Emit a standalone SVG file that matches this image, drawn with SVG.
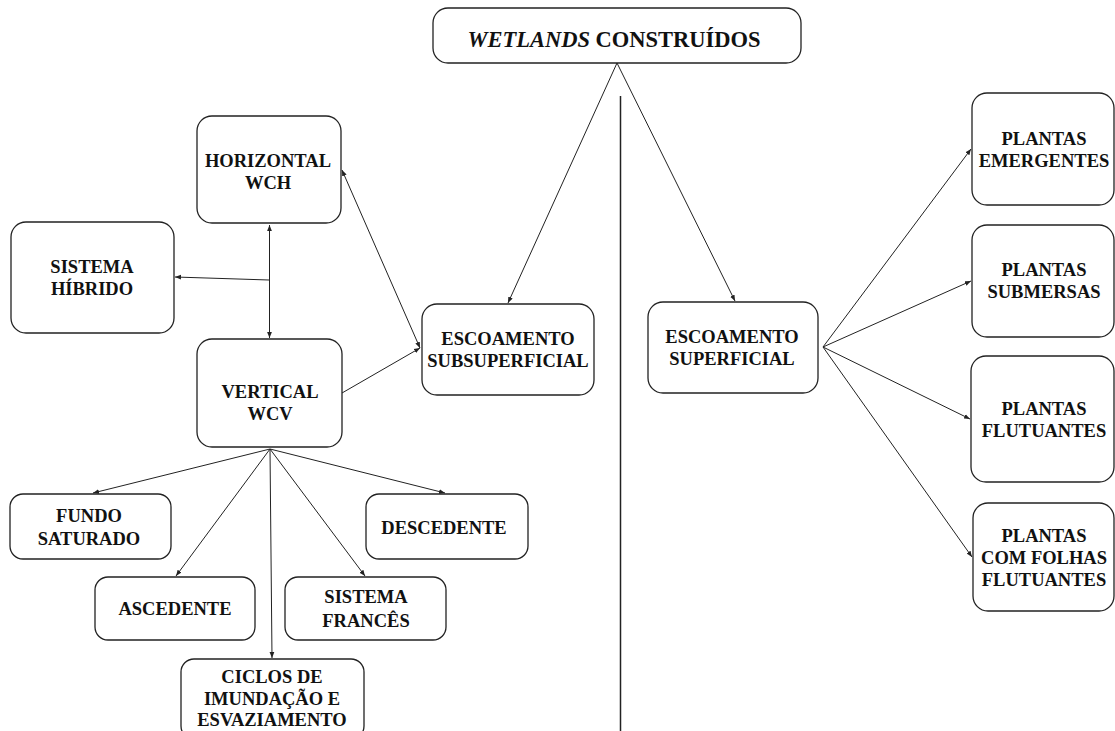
<svg xmlns="http://www.w3.org/2000/svg" width="1115" height="731" viewBox="0 0 1115 731">
<style>
.box{fill:#fff;stroke:#222;stroke-width:1.3}
.t{font-family:"Liberation Serif","Times New Roman",serif;font-weight:bold;font-size:18.5px;fill:#111;text-anchor:middle}
.ln{stroke:#222;stroke-width:1;fill:none}
</style>
<defs>
<marker id="ah" viewBox="0 0 10 10" refX="10" refY="5" markerWidth="6" markerHeight="6" orient="auto-start-reverse" markerUnits="userSpaceOnUse">
<path d="M0,1 L10,5 L0,9 z" fill="#222"/>
</marker>
</defs>
<rect width="1115" height="731" fill="#fff"/>
<g id="connectors">
<line class="ln" x1="620.5" y1="96" x2="620.5" y2="731" style="stroke-width:1.5"/>
<line class="ln" x1="617" y1="63" x2="508" y2="303" marker-end="url(#ah)"/>
<line class="ln" x1="617" y1="63" x2="735" y2="301" marker-end="url(#ah)"/>
<line class="ln" x1="420" y1="348" x2="342" y2="170" marker-end="url(#ah)" marker-start="url(#ah)"/>
<line class="ln" x1="342" y1="393" x2="420" y2="348" marker-end="url(#ah)"/>
<line class="ln" x1="269.5" y1="225" x2="269.5" y2="338" marker-end="url(#ah)" marker-start="url(#ah)"/>
<line class="ln" x1="269" y1="280" x2="175" y2="277" marker-end="url(#ah)"/>
<line class="ln" x1="270" y1="449" x2="93" y2="493" marker-end="url(#ah)"/>
<line class="ln" x1="270" y1="449" x2="445" y2="493" marker-end="url(#ah)"/>
<line class="ln" x1="270" y1="449" x2="176" y2="576" marker-end="url(#ah)"/>
<line class="ln" x1="270" y1="449" x2="365" y2="576" marker-end="url(#ah)"/>
<line class="ln" x1="270" y1="449" x2="272" y2="658" marker-end="url(#ah)"/>
<line class="ln" x1="823" y1="347" x2="971" y2="149" marker-end="url(#ah)"/>
<line class="ln" x1="823" y1="347" x2="971" y2="281" marker-end="url(#ah)"/>
<line class="ln" x1="823" y1="347" x2="970" y2="419" marker-end="url(#ah)"/>
<line class="ln" x1="823" y1="347" x2="972" y2="557" marker-end="url(#ah)"/>
</g>
<g id="n-wetlands">
<rect class="box" x="433" y="8" width="368" height="55" rx="15"/>
<text class="t" x="614" y="47" style="font-size:22.5px"><tspan font-style="italic">WETLANDS</tspan> CONSTRUÍDOS</text>
</g>
<g id="n-horizontal">
<rect class="box" x="197" y="116" width="144" height="107" rx="15"/>
<text class="t" x="268" y="167">HORIZONTAL</text>
<text class="t" x="268" y="189">WCH</text>
</g>
<g id="n-hibrido">
<rect class="box" x="11" y="222" width="163" height="111" rx="15"/>
<text class="t" x="92" y="273">SISTEMA</text>
<text class="t" x="92" y="295">HÍBRIDO</text>
</g>
<g id="n-vertical">
<rect class="box" x="197" y="339" width="145" height="108" rx="15"/>
<text class="t" x="270" y="398">VERTICAL</text>
<text class="t" x="270" y="420">WCV</text>
</g>
<g id="n-subsuperficial">
<rect class="box" x="422" y="304" width="172" height="91" rx="15"/>
<text class="t" x="508" y="345">ESCOAMENTO</text>
<text class="t" x="508" y="367">SUBSUPERFICIAL</text>
</g>
<g id="n-superficial">
<rect class="box" x="648" y="302" width="170" height="91" rx="15"/>
<text class="t" x="732" y="343">ESCOAMENTO</text>
<text class="t" x="732" y="365">SUPERFICIAL</text>
</g>
<g id="n-fundo">
<rect class="box" x="10" y="494" width="161" height="65" rx="13"/>
<text class="t" x="89" y="522">FUNDO</text>
<text class="t" x="89" y="545">SATURADO</text>
</g>
<g id="n-descendente">
<rect class="box" x="366" y="494" width="162" height="65" rx="13"/>
<text class="t" x="444" y="534">DESCEDENTE</text>
</g>
<g id="n-ascendente">
<rect class="box" x="95" y="577" width="160" height="63" rx="13"/>
<text class="t" x="175" y="615">ASCEDENTE</text>
</g>
<g id="n-frances">
<rect class="box" x="285" y="577" width="161" height="63" rx="13"/>
<text class="t" x="366" y="603">SISTEMA</text>
<text class="t" x="366" y="627">FRANCÊS</text>
</g>
<g id="n-ciclos">
<rect class="box" x="181" y="659" width="183" height="80" rx="13"/>
<text class="t" x="272" y="683">CICLOS DE</text>
<text class="t" x="272" y="705">IMUNDAÇÃO E</text>
<text class="t" x="272" y="726">ESVAZIAMENTO</text>
</g>
<g id="n-emergentes">
<rect class="box" x="972" y="93" width="142" height="112" rx="15"/>
<text class="t" x="1044" y="145">PLANTAS</text>
<text class="t" x="1044" y="167">EMERGENTES</text>
</g>
<g id="n-submersas">
<rect class="box" x="972" y="225" width="142" height="112" rx="15"/>
<text class="t" x="1044" y="276">PLANTAS</text>
<text class="t" x="1044" y="298">SUBMERSAS</text>
</g>
<g id="n-flutuantes">
<rect class="box" x="971" y="356" width="143" height="126" rx="15"/>
<text class="t" x="1044" y="415">PLANTAS</text>
<text class="t" x="1044" y="437">FLUTUANTES</text>
</g>
<g id="n-folhas">
<rect class="box" x="973" y="503" width="141" height="108" rx="15"/>
<text class="t" x="1044" y="542">PLANTAS</text>
<text class="t" x="1044" y="564">COM FOLHAS</text>
<text class="t" x="1044" y="586">FLUTUANTES</text>
</g>
</svg>
